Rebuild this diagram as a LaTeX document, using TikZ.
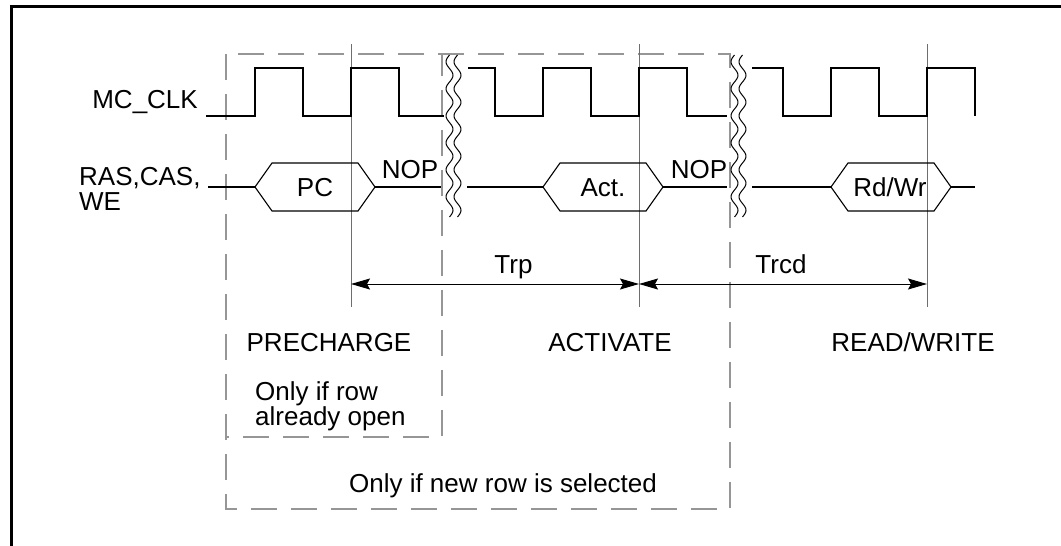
\documentclass[tikz,border=0pt]{standalone}
\usepackage{fontspec}
\setmainfont{Liberation Sans}
\usetikzlibrary{arrows.meta}
\definecolor{dashgray}{RGB}{150,150,150}
\definecolor{refgray}{RGB}{110,110,110}
\newcommand{\sigbox}[1]{\draw[sig] (#1) -- ++(17,-24) -- ++(86,0) -- ++(17,24) -- ++(-17,24) -- ++(-86,0) -- cycle;}
\begin{document}
\begin{tikzpicture}[x=1pt,y=-1pt,
  lbl/.style={font=\fontsize{26}{25}\selectfont, inner sep=0pt},
  sig/.style={line width=1.1pt, black, line join=miter},
  refline/.style={line width=0.9pt, refgray},
  grp/.style={line width=1.7pt, dashgray, dash pattern=on 26pt off 14pt},
  brk/.style={line width=1pt, black},
  dim/.style={line width=1pt, {Stealth[length=19pt,width=11pt,inset=3pt]}-{Stealth[length=19pt,width=11pt,inset=3pt]}},
  frame/.style={line width=3pt, black}
]
\useasboundingbox (0,0) rectangle (1061,546);

% outer frame
\draw[frame] (11,546) -- (11,6) -- (1061,6);

% dashed grouping boxes
\draw[grp] (226,54) rectangle (730,509);
\draw[grp] (226,54) rectangle (442,437);

% vertical reference lines
\coordinate (v1t) at (351,44); \coordinate (v1b) at (351,307);
\coordinate (v2t) at (639,44); \coordinate (v2b) at (639,307);
\coordinate (v3t) at (927,44); \coordinate (v3b) at (927,307);
\draw[refline] (v1t) -- (v1b);
\draw[refline] (v2t) -- (v2b);
\draw[refline] (v3t) -- (v3b);

% clock
\draw[sig] (206,116) -- (255,116) -- (255,68) -- (303,68) -- (303,116) -- (351,116) -- (351,68) -- (399,68) -- (399,116) -- (443.5,116);
\draw[sig] (468,68) -- (495,68) -- (495,116) -- (543,116) -- (543,68) -- (591,68) -- (591,116) -- (639,116) -- (639,68) -- (687,68) -- (687,116) -- (727,116);
\draw[sig] (752,68) -- (783,68) -- (783,116) -- (831,116) -- (831,68) -- (879,68) -- (879,116) -- (927,116) -- (927,68) -- (975,68) -- (975,116);

% command bus
\coordinate (r0) at (208,187);
\coordinate (pcW) at (255,187); \coordinate (pcE) at (375,187);
\coordinate (r1) at (441,187); \coordinate (r2) at (467,187);
\coordinate (acW) at (543,187); \coordinate (acE) at (663,187);
\coordinate (r3) at (727,187); \coordinate (r4) at (752,187);
\coordinate (rwW) at (831,187); \coordinate (rwE) at (951,187);
\coordinate (r5) at (975,187);
\sigbox{pcW}
\sigbox{acW}
\sigbox{rwW}
\draw[sig] (r0) -- (pcW);
\draw[sig] (pcE) -- (r1);
\draw[sig] (r2) -- (acW);
\draw[sig] (acE) -- (r3);
\draw[sig] (r4) -- (rwW);
\draw[sig] (rwE) -- (r5);

% break symbols
\foreach \bx in {449.5,457.5,734.5,742.5} {
  \draw[brk] plot[domain=0:162, samples=120, smooth] ({\bx-3.5*sin(\x/27*360)}, {55+\x});
}

% timing arrows
\coordinate (t1) at (351,284);
\coordinate (t2) at (639,284);
\coordinate (t3) at (927,284);
\draw[dim] (t1) -- (t2);
\draw[dim] (t2) -- (t3);

% labels
\node[lbl, anchor=base east] (mcclk) at (198,108.6) {MC\_CLK};
\node[lbl, anchor=north west, align=left] (ras) at (79,167) {RAS,CAS,\\WE};
\node[lbl, anchor=base] (pc) at (315,196) {PC};
\node[lbl, anchor=base] (act) at (603,196) {Act.};
\node[lbl, anchor=base] (rw) at (890,196) {Rd/Wr};
\node[lbl, anchor=base] (nop1) at (410,178) {NOP};
\node[lbl, anchor=base] (nop2) at (699,178) {NOP};
\node[lbl, anchor=base] (trp) at (513.5,273) {Trp};
\node[lbl, anchor=base] (trcd) at (781,273) {Trcd};
\node[lbl, anchor=base] (pre) at (329,351) {PRECHARGE};
\node[lbl, anchor=base] (actv) at (610,351) {ACTIVATE};
\node[lbl, anchor=base] (rdwr) at (913,351) {READ/WRITE};
\node[lbl, anchor=north west, align=left] (open) at (255,381) {Only if row\\already open};
\node[lbl, anchor=base] (newrow) at (503,492) {Only if new row is selected};
\end{tikzpicture}
\end{document}
